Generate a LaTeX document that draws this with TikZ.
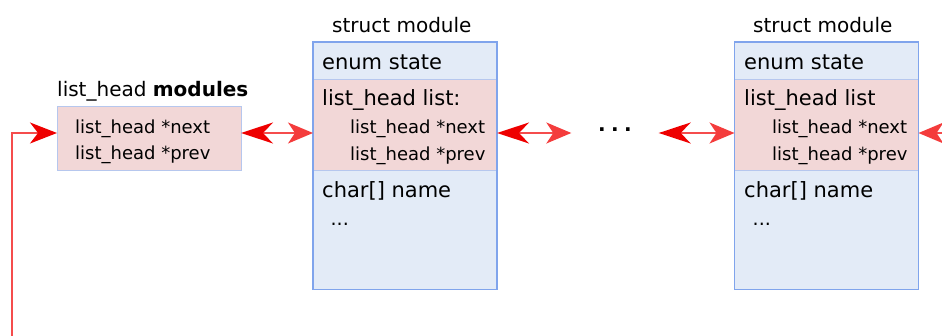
\documentclass[tikz,border=0pt]{standalone}
\usepackage{fontspec}
\setmainfont{DejaVu Sans}
\usetikzlibrary{arrows.meta,calc}

\definecolor{boxblue}{HTML}{E3EBF7}
\definecolor{boxpink}{HTML}{F2D7D7}
\definecolor{edgeblue}{HTML}{80A4EC}
\definecolor{edgelight}{HTML}{B6C7EE}
\definecolor{linkred}{HTML}{F54C4C}
\definecolor{tipred}{HTML}{EE0000}
\definecolor{tipsoft}{HTML}{F43C3C}

\tikzset{
  part/.style={anchor=north west, inner sep=0pt, outer sep=0pt, minimum width=184pt},
  bluepart/.style={part, fill=boxblue},
  pinkpart/.style={part, fill=boxpink, draw=edgelight, line width=0.8pt},
  outline/.style={draw=edgeblue, line width=1.3pt},
  fieldtxt/.style={anchor=base west, inner sep=0pt, font=\fontsize{21pt}{25pt}\selectfont},
  subtxt/.style={anchor=base west, inner sep=0pt, font=\fontsize{18pt}{22pt}\selectfont},
  titletxt/.style={anchor=base west, inner sep=0pt, font=\fontsize{20pt}{24pt}\selectfont},
  moretxt/.style={anchor=base west, inner sep=0pt, font=\fontsize{19pt}{22pt}\selectfont},
  bigtip/.tip={Stealth[length=32pt, width=21pt, inset=10pt, color=tipred]},
  softtip/.tip={Stealth[length=25pt, width=21pt, inset=7pt, color=tipsoft]},
  link/.style={draw=linkred, line width=1.8pt, bigtip-softtip},
}

\begin{document}
\begin{tikzpicture}[x=1pt, y=-1pt]
  \clip (0,0) rectangle (942,336);
  % level of all list links
  \coordinate (row) at (0,133);

  % ---- list head "modules" ----
  \node[titletxt] (modlabel) at (57,97) {list\_head \textbf{modules}};
  \node[pinkpart, minimum height=64pt] (mods) at (57,106) {};
  \node[subtxt] (modnext) at (75,134) {list\_head *next};
  \node[subtxt] (modprev) at (75,160) {list\_head *prev};

  % ---- first struct module ----
  \node[titletxt] (s1title) at (332,33) {struct module};
  \node[bluepart, minimum height=37.3pt] (s1top) at (313,42) {};
  \node[pinkpart, minimum height=91.4pt] (s1list) at (313,79.3) {};
  \node[bluepart, minimum height=118.6pt] (s1rest) at (313,170.7) {};
  \draw[outline] (s1top.north west) rectangle (s1rest.south east);
  \node[fieldtxt] (s1state) at (322,70) {enum state};
  \node[fieldtxt] (s1head) at (322,106) {list\_head list:};
  \node[subtxt] (s1next) at (350,134) {list\_head *next};
  \node[subtxt] (s1prev) at (350,161) {list\_head *prev};
  \node[fieldtxt] (s1name) at (322,198) {char[] name};
  \node[moretxt] (s1more) at (330.5,225.5) {...};

  % ---- elided middle of the list ----
  \node[anchor=base, inner sep=0pt, minimum width=87pt,
        font=\fontsize{20pt}{24pt}\selectfont\bfseries] (dots) at (615,132)
        {.\hspace{5.4pt}.\hspace{5.4pt}.};

  % ---- last struct module ----
  \node[titletxt] (s2title) at (753,33) {struct module};
  \node[bluepart, minimum height=37.3pt] (s2top) at (734.5,42) {};
  \node[pinkpart, minimum height=91.4pt] (s2list) at (734.5,79.3) {};
  \node[bluepart, minimum height=118.6pt] (s2rest) at (734.5,170.7) {};
  \draw[outline] (s2top.north west) rectangle (s2rest.south east);
  \node[fieldtxt] (s2state) at (744,70) {enum state};
  \node[fieldtxt] (s2head) at (744,106) {list\_head list};
  \node[subtxt] (s2next) at (772,134) {list\_head *next};
  \node[subtxt] (s2prev) at (772,161) {list\_head *prev};
  \node[fieldtxt] (s2name) at (744,198) {char[] name};
  \node[moretxt] (s2more) at (752.5,225.5) {...};

  % ---- links ----
  \draw[link] (mods.east |- row) -- (s1list.west |- row);
  \draw[link] (s1list.east |- row) -- (dots.west |- row);
  \draw[link] (dots.east |- row) -- (s2list.west |- row);

  % wrap-around links leaving the picture
  \coordinate (wrapin) at (12,350);
  \coordinate (wrapout) at (970,133);
  \draw[draw=linkred, line width=1.8pt, -{Stealth[length=27pt, width=21pt, inset=8pt, color=tipred]}]
    (wrapin) |- (mods.west |- row);
  \draw[draw=linkred, line width=1.8pt, -softtip] (wrapout) -- (s2list.east |- row);
\end{tikzpicture}
\end{document}
